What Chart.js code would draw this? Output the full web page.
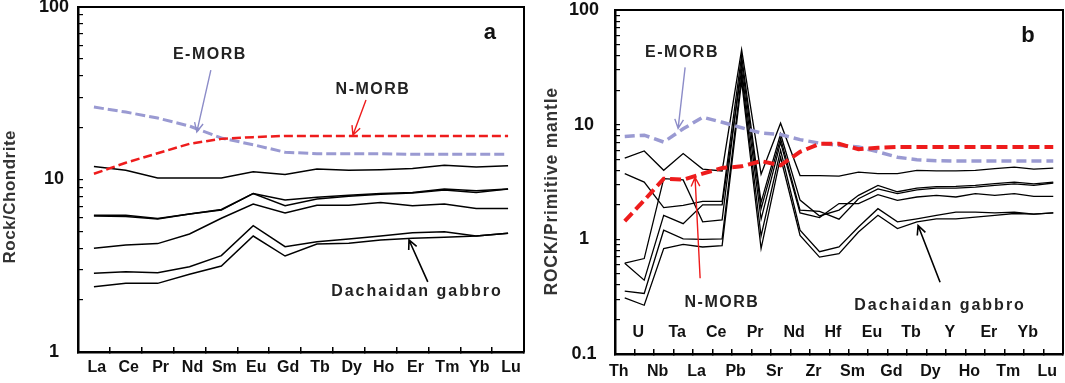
<!DOCTYPE html>
<html>
<head>
<meta charset="utf-8">
<script src="https://cdn.jsdelivr.net/npm/chart.js@4.4.1/dist/chart.umd.min.js"></script>
<style>
  html, body { margin: 0; padding: 0; background: #fff; }
  .panel { position: absolute; top: 0; height: 383px; }
  #boxA { left: 0; width: 530px; }
  #boxB { left: 530px; width: 535px; }
</style>
</head>
<body>
<div class="panel" id="boxA"><canvas id="chartA"></canvas></div>
<div class="panel" id="boxB"><canvas id="chartB"></canvas></div>
<script>
// ---- panel a: chondrite normalised REE ----
const reeLabels = ['La', 'Ce', 'Pr', 'Nd', 'Sm', 'Eu', 'Gd', 'Tb', 'Dy', 'Ho', 'Er', 'Tm', 'Yb', 'Lu'];
const emorbA = [26.3, 24.6, 22.7, 20.4, 17.4, 15.9, 14.4, 14.1, 14.1, 14.1, 14.0, 14.0, 14.0, 14.0];
const nmorbA = [10.8, 12.5, 14.2, 16.1, 17.2, 17.6, 17.9, 17.9, 17.9, 17.9, 17.9, 17.9, 17.9, 17.9];
const gabA1 = [11.9, 11.3, 10.2, 10.2, 10.2, 11.1, 10.7, 11.5, 11.3, 11.4, 11.6, 12.1, 11.8, 12.0];
const gabA2 = [6.2, 6.2, 5.95, 6.3, 6.7, 8.3, 7.6, 7.9, 8.1, 8.3, 8.4, 8.8, 8.6, 8.8];
const gabA3 = [6.15, 6.1, 5.9, 6.3, 6.65, 8.3, 7.05, 7.7, 8.0, 8.2, 8.35, 8.7, 8.4, 8.8];
const gabA4 = [4.0, 4.17, 4.25, 4.83, 5.96, 7.2, 6.4, 7.1, 7.1, 7.35, 7.05, 7.2, 6.8, 6.8];
const gabA5 = [2.86, 2.92, 2.88, 3.12, 3.62, 5.4, 4.08, 4.36, 4.52, 4.7, 4.92, 4.98, 4.7, 4.88];
const gabA6 = [2.39, 2.5, 2.5, 2.82, 3.15, 4.7, 3.6, 4.23, 4.27, 4.46, 4.56, 4.62, 4.7, 4.88];
const yTicksA = [1, 2, 3, 4, 5, 6, 7, 8, 9, 10, 20, 30, 40, 50, 60, 70, 80, 90, 100];

// ---- panel b: primitive mantle normalised spider ----
const spiderLabels = ['Th', 'U', 'Nb', 'Ta', 'La', 'Ce', 'Pb', 'Pr', 'Sr', 'Nd', 'Zr', 'Hf',
  'Sm', 'Eu', 'Gd', 'Tb', 'Dy', 'Y', 'Ho', 'Er', 'Tm', 'Yb', 'Lu'];
const emorbB = [7.9, 8.1, 7.05, 9.2, 11.6, 10.5, 9.4, 8.45, 8.2, 7.4, 6.9, 6.6, 6.4, 5.8, 5.2, 4.95, 4.85, 4.82, 4.82, 4.82, 4.82, 4.82, 4.82];
const nmorbB = [1.44, 2.19, 3.38, 3.31, 3.74, 4.19, 4.33, 4.81, 4.42, 5.8, 6.8, 6.8, 6.1, 6.3, 6.38, 6.38, 6.38, 6.38, 6.38, 6.38, 6.38, 6.38, 6.38];
const gabB1 = [5.1, 5.9, 4.0, 5.6, 4.1, 3.95, 45, 3.7, 10.3, 3.6, 3.6, 3.56, 3.86, 3.74, 3.74, 4.0, 3.95, 3.95, 4.0, 4.13, 4.27, 4.1, 4.18];
const gabB2 = [3.74, 3.16, 1.89, 1.98, 2.14, 2.14, 40, 2.1, 8.3, 2.2, 1.6, 1.8, 2.42, 2.95, 2.6, 2.8, 2.88, 2.9, 2.95, 3.06, 3.16, 3.05, 3.16];
const gabB3 = [0.62, 0.68, 3.38, 3.3, 1.42, 1.48, 35, 1.85, 7.6, 1.8, 1.75, 1.5, 2.26, 2.75, 2.5, 2.7, 2.8, 2.8, 2.85, 2.95, 3.05, 2.95, 3.1];
const gabB4 = [0.62, 0.44, 1.62, 1.37, 2.0, 2.0, 30, 1.5, 7.0, 1.7, 1.55, 2.05, 2.05, 2.45, 2.19, 2.34, 2.42, 2.34, 2.5, 2.42, 2.5, 2.37, 2.37];
const gabB5 = [0.354, 0.337, 1.2, 1.01, 1.0, 1.01, 27, 1.07, 6.0, 1.2, 0.78, 0.86, 1.28, 1.85, 1.42, 1.51, 1.62, 1.73, 1.73, 1.7, 1.73, 1.66, 1.7];
const gabB6 = [0.308, 0.266, 0.83, 0.905, 0.857, 0.88, 24, 0.83, 5.2, 1.08, 0.70, 0.75, 1.16, 1.62, 1.24, 1.42, 1.51, 1.51, 1.56, 1.62, 1.68, 1.66, 1.7];
const yTicksB = [0.1, 0.2, 0.3, 0.4, 0.5, 0.6, 0.7, 0.8, 0.9, 1, 2, 3, 4, 5, 6, 7, 8, 9,
  10, 20, 30, 40, 50, 60, 70, 80, 90, 100];

const FONT = "'Liberation Sans', Arial, sans-serif";
const LAVENDER = '#9a9ad2';
const RED = '#ee1c1c';

function logLabel(v) {
  const e = Math.log10(v);
  return Math.abs(e - Math.round(e)) < 1e-9 ? String(v) : '';
}

function line(data, color, width, dash) {
  return { data, borderColor: color, borderWidth: width, borderDash: dash || [],
    pointRadius: 0, fill: false, tension: 0 };
}

// frame, labels, arrows and the y title, placed through the chart scales
function makeNotes(cfg) {
  return {
    id: 'notes',
    afterDraw(chart) {
      const { ctx, chartArea: a, scales } = chart;
      const px = p => [scales.x.getPixelForValue(p[0]), scales.y.getPixelForValue(p[1])];
      ctx.save();
      ctx.strokeStyle = '#000';
      ctx.lineWidth = 2;
      ctx.beginPath();
      ctx.moveTo(a.left, a.top);
      ctx.lineTo(a.right, a.top);
      ctx.lineTo(a.right, a.bottom);
      ctx.stroke();

      cfg.arrows.forEach(ar => {
        const [x1, y1] = px(ar.from), [x2, y2] = px(ar.to);
        const ang = Math.atan2(y2 - y1, x2 - x1), h = 10;
        ctx.strokeStyle = ar.color;
        ctx.lineWidth = ar.width || 1.4;
        ctx.beginPath();
        ctx.moveTo(x1, y1);
        ctx.lineTo(x2, y2);
        ctx.moveTo(x2 - h * Math.cos(ang - 0.45), y2 - h * Math.sin(ang - 0.45));
        ctx.lineTo(x2, y2);
        ctx.lineTo(x2 - h * Math.cos(ang + 0.45), y2 - h * Math.sin(ang + 0.45));
        ctx.stroke();
      });

      ctx.textAlign = 'center';
      ctx.textBaseline = 'middle';
      cfg.texts.forEach(t => {
        const [x, y] = px(t.at);
        ctx.font = 'bold ' + t.size + 'px ' + FONT;
        ctx.letterSpacing = (t.spacing || 0) + 'px';
        ctx.fillStyle = t.color || '#222';
        ctx.fillText(t.text, x, y);
      });

      ctx.letterSpacing = cfg.title.spacing + 'px';
      ctx.font = 'bold ' + cfg.title.size + 'px ' + FONT;
      ctx.fillStyle = '#333';
      ctx.translate(cfg.title.x, a.top + (a.bottom - a.top) * cfg.title.frac);
      ctx.rotate(-Math.PI / 2);
      ctx.fillText(cfg.title.text, 0, 0);
      ctx.restore();
    }
  };
}

function scalesFor(opts) {
  return {
    x: {
      type: 'category',
      offset: true,
      grid: { display: true, offset: true, drawOnChartArea: false, drawTicks: true,
        tickLength: -5, color: '#000', lineWidth: 1.5 },
      border: { display: true, color: '#000', width: 2.5 },
      ticks: { autoSkip: false, maxRotation: 0, minRotation: 0, padding: opts.xPad,
        mirror: !!opts.xMirror, labelOffset: opts.xShift, color: '#111', callback: opts.xLabel,
        font: { family: FONT, size: 16, weight: 'bold', lineHeight: opts.xLine } },
      afterFit: s => {
        s.height = opts.xHeight;
        s.paddingLeft = 0;
        s.paddingRight = 0;
      }
    },
    y: {
      type: 'logarithmic',
      min: opts.yMin,
      max: opts.yMax,
      afterBuildTicks: s => { s.ticks = opts.yTicks.map(v => ({ value: v })); },
      grid: { display: true, drawOnChartArea: false, drawTicks: true, tickLength: -5,
        color: '#000', lineWidth: 1.2 },
      border: { display: true, color: '#000', width: 2.5 },
      ticks: { autoSkip: false, crossAlign: 'center', padding: opts.yPad, color: '#111',
        callback: logLabel, font: { family: FONT, size: 18, weight: 'bold' } },
      afterFit: s => {
        s.width = opts.yWidth;
        s.paddingTop = 0;
        s.paddingBottom = 0;
      }
    }
  };
}

new Chart(document.getElementById('chartA'), {
  type: 'line',
  data: {
    labels: reeLabels,
    datasets: [
      line(nmorbA, RED, 2.5, [9, 4]),
      line(emorbA, LAVENDER, 3, [10, 4]),
      line(gabA1, '#000', 1.5),
      line(gabA2, '#000', 1.5),
      line(gabA3, '#000', 1.5),
      line(gabA4, '#000', 1.5),
      line(gabA5, '#000', 1.5),
      line(gabA6, '#000', 1.5)
    ]
  },
  options: {
    responsive: true,
    maintainAspectRatio: false,
    animation: false,
    layout: { padding: { top: 7, right: 6, left: 0, bottom: 0 } },
    plugins: { legend: { display: false }, tooltip: { enabled: false } },
    scales: scalesFor({ xPad: 11.4, xShift: 3, xLine: 1.2, xHeight: 31,
      xLabel: (v, i) => reeLabels[i],
      yMin: 1, yMax: 100, yTicks: yTicksA, yPad: 14, yWidth: 78 })
  },
  plugins: [makeNotes({
    title: { text: 'Rock/Chondrite', x: 10, frac: 0.55, size: 17, spacing: 0.5 },
    texts: [
      { text: 'E-MORB', at: [3.64, 52.7], size: 16, spacing: 1.5 },
      { text: 'N-MORB', at: [8.76, 33.0], size: 16, spacing: 1.5 },
      { text: 'Dachaidan gabbro', at: [10.14, 2.23], size: 16, spacing: 2 },
      { text: 'a', at: [12.43, 70.7], size: 22, color: '#111' }
    ],
    arrows: [
      { from: [3.67, 43.1], to: [3.23, 18.9], color: '#8c8cc8' },
      { from: [8.54, 28.9], to: [8.13, 18.1], color: RED },
      { from: [10.48, 2.55], to: [9.89, 4.46], color: '#000', width: 1.6 }
    ]
  })]
});

new Chart(document.getElementById('chartB'), {
  type: 'line',
  data: {
    labels: spiderLabels,
    datasets: [
      line(nmorbB, RED, 4, [11, 5]),
      line(emorbB, LAVENDER, 3.5, [10, 5]),
      line(gabB1, '#000', 1.3),
      line(gabB2, '#000', 1.3),
      line(gabB3, '#000', 1.3),
      line(gabB4, '#000', 1.3),
      line(gabB5, '#000', 1.3),
      line(gabB6, '#000', 1.3)
    ]
  },
  options: {
    responsive: true,
    maintainAspectRatio: false,
    animation: false,
    layout: { padding: { top: 10, right: 2, left: 0, bottom: 0 } },
    plugins: { legend: { display: false }, tooltip: { enabled: false } },
    // mirrored labels are not clipped to the axis box, so the upper row can sit inside the frame
    scales: scalesFor({ xPad: 1.5, xMirror: true, xShift: -6, xLine: 2.4375, xHeight: 29,
      xLabel: (v, i) => (i % 2 ? [spiderLabels[i], ''] : ['', spiderLabels[i]]),
      yMin: 0.1, yMax: 100, yTicks: yTicksB, yPad: 21, yWidth: 85 })
  },
  plugins: [makeNotes({
    title: { text: 'ROCK/Primitive mantle', x: 22, frac: 0.527, size: 17.5, spacing: 0.8 },
    texts: [
      { text: 'E-MORB', at: [2.94, 42.7], size: 16, spacing: 1.5 },
      { text: 'N-MORB', at: [4.99, 0.282], size: 16, spacing: 1.5 },
      { text: 'Dachaidan gabbro', at: [16.19, 0.266], size: 16, spacing: 2 },
      { text: 'b', at: [20.7, 60], size: 22, color: '#111' }
    ],
    arrows: [
      { from: [3.10, 31.6], to: [2.74, 9.29], color: '#8c8cc8' },
      { from: [3.87, 0.457], to: [3.61, 3.47], color: RED },
      { from: [16.19, 0.422], to: [15.06, 1.32], color: '#000', width: 1.6 }
    ]
  })]
});
</script>
</body>
</html>
